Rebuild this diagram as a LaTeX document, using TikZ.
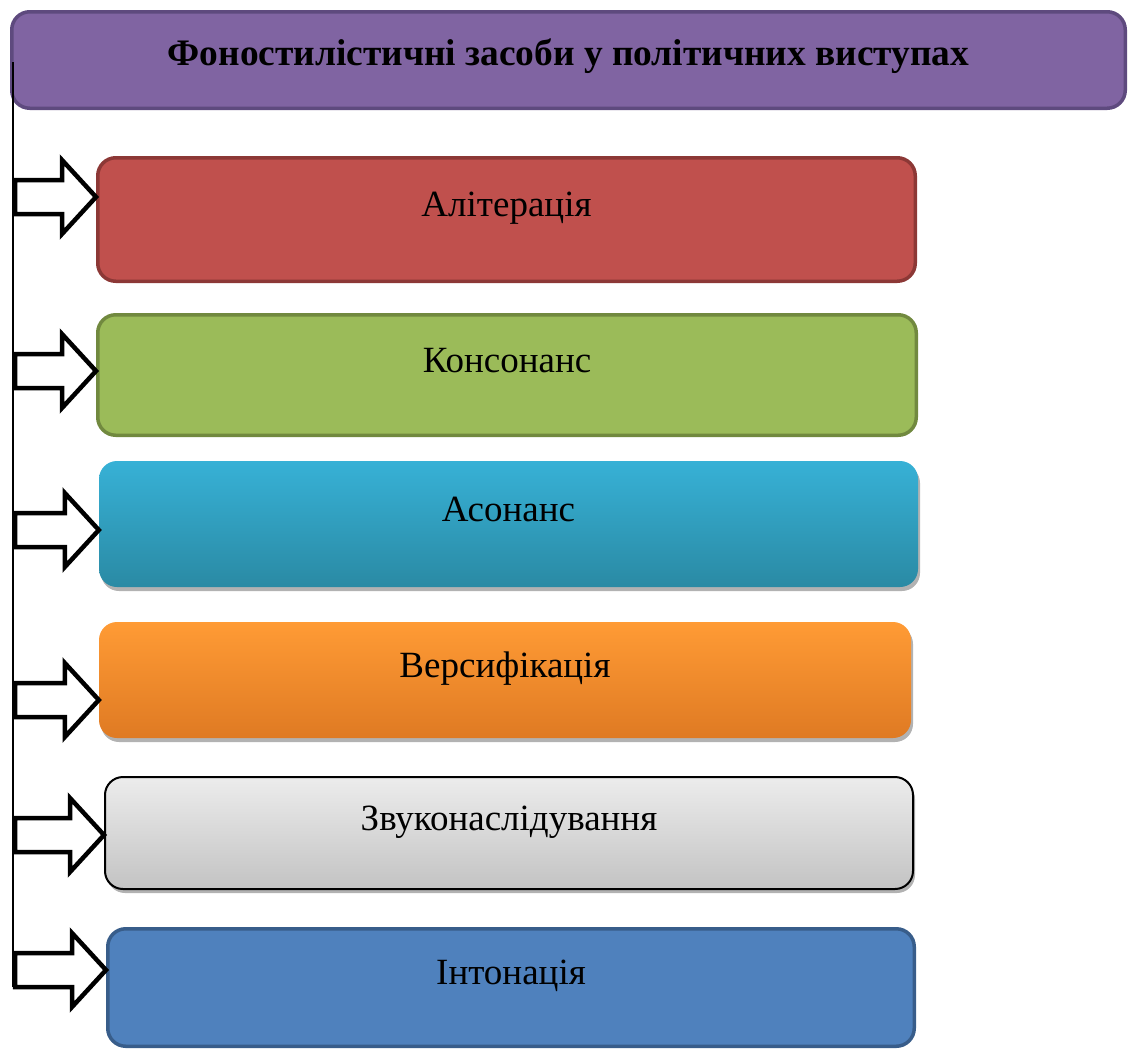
\documentclass[tikz,border=0pt]{standalone}
\usepackage{fontspec}
\setmainfont{Liberation Serif}
\usetikzlibrary{shadows,calc}
\definecolor{titlefill}{HTML}{8064A2}
\definecolor{titledraw}{HTML}{5E4A7E}
\definecolor{redfill}{HTML}{C0504D}
\definecolor{reddraw}{HTML}{8C3836}
\definecolor{greenfill}{HTML}{9BBB59}
\definecolor{greendraw}{HTML}{71893F}
\definecolor{tealtop}{HTML}{37B1D6}
\definecolor{tealbot}{HTML}{2A8AA4}
\definecolor{orangetop}{HTML}{FF9B35}
\definecolor{orangebot}{HTML}{DF7A23}
\definecolor{greytop}{HTML}{ECECEC}
\definecolor{greybot}{HTML}{C3C3C3}
\definecolor{bluefill}{HTML}{4F81BD}
\definecolor{bluedraw}{HTML}{385D8A}
\newcommand\blockarrow[2]{%
  \draw[arrowshape] let \p1=(#1), \p2=(#2) in
    (\x1,\y1+17pt) -- (\x2-34pt,\y1+17pt) -- (\x2-34pt,\y1+37pt) -- (\x2,\y1)
    -- (\x2-34pt,\y1-37pt) -- (\x2-34pt,\y1-17pt) -- (\x1,\y1-17pt) -- cycle;}
\begin{document}
\begin{tikzpicture}[x=1pt,y=-1pt,
  itembox/.style={rectangle, rounded corners=18pt, inner sep=0pt,
    text height=10pt, text depth=16pt, text=black,
    font=\fontsize{37}{42}\selectfont},
  titlebox/.style={rectangle, rounded corners=18pt, inner sep=0pt,
    text height=20pt, text depth=10pt, text=black,
    font=\fontsize{37.4}{42}\selectfont\bfseries,
    fill=titlefill, draw=titledraw, line width=3.5pt},
  flatbox/.style={itembox, line width=3.5pt},
  softshadow/.style={drop shadow={shadow xshift=2pt, shadow yshift=-4pt, opacity=0.3, fill=black}},
  arrowshape/.style={draw=black, fill=white, line width=4.5pt, line join=miter},
  trunk/.style={draw=black, line width=1.5pt}]
\path[use as bounding box] (0,0) rectangle (1129,1050);

\node[titlebox, minimum width=1113.5pt, minimum height=96.5pt] (title) at (568.5,60)
  {Фоностилістичні засоби у політичних виступах};

\node[flatbox, fill=redfill, draw=reddraw, minimum width=817.5pt, minimum height=123.5pt]
  (b1) at (506.5,219.5) {Алітерація};
\node[flatbox, fill=greenfill, draw=greendraw, minimum width=818.5pt, minimum height=120.5pt]
  (b2) at (507,375) {Консонанс};
\node[itembox, softshadow, top color=tealtop, bottom color=tealbot, minimum width=819pt, minimum height=126pt]
  (b3) at (508.5,524) {Асонанс};
\node[itembox, softshadow, top color=orangetop, bottom color=orangebot, minimum width=812pt, minimum height=116pt]
  (b4) at (505,680) {Версифікація};
\node[itembox, softshadow, top color=greytop, bottom color=greybot, draw=black, line width=2pt,
  minimum width=808pt, minimum height=112pt]
  (b5) at (509,833) {Звуконаслідування};
\node[flatbox, fill=bluefill, draw=bluedraw, minimum width=806.5pt, minimum height=117.5pt]
  (b6) at (511,987.5) {Інтонація};

\coordinate (ttop) at ($(title.west)+(3,2)$);
\coordinate (tbot) at (13,987);
\draw[trunk] (ttop) -- (tbot);

\coordinate (a1) at (15,197);
\coordinate (a2) at (15,371);
\coordinate (a3) at (15,530);
\coordinate (a4) at (15,700);
\coordinate (a5) at (15,835);
\coordinate (a6) at (15,970);
\blockarrow{a1}{b1.west}
\blockarrow{a2}{b2.west}
\blockarrow{a3}{b3.west}
\blockarrow{a4}{b4.west}
\blockarrow{a5}{b5.west}
\blockarrow{a6}{b6.west}
\end{tikzpicture}
\end{document}
